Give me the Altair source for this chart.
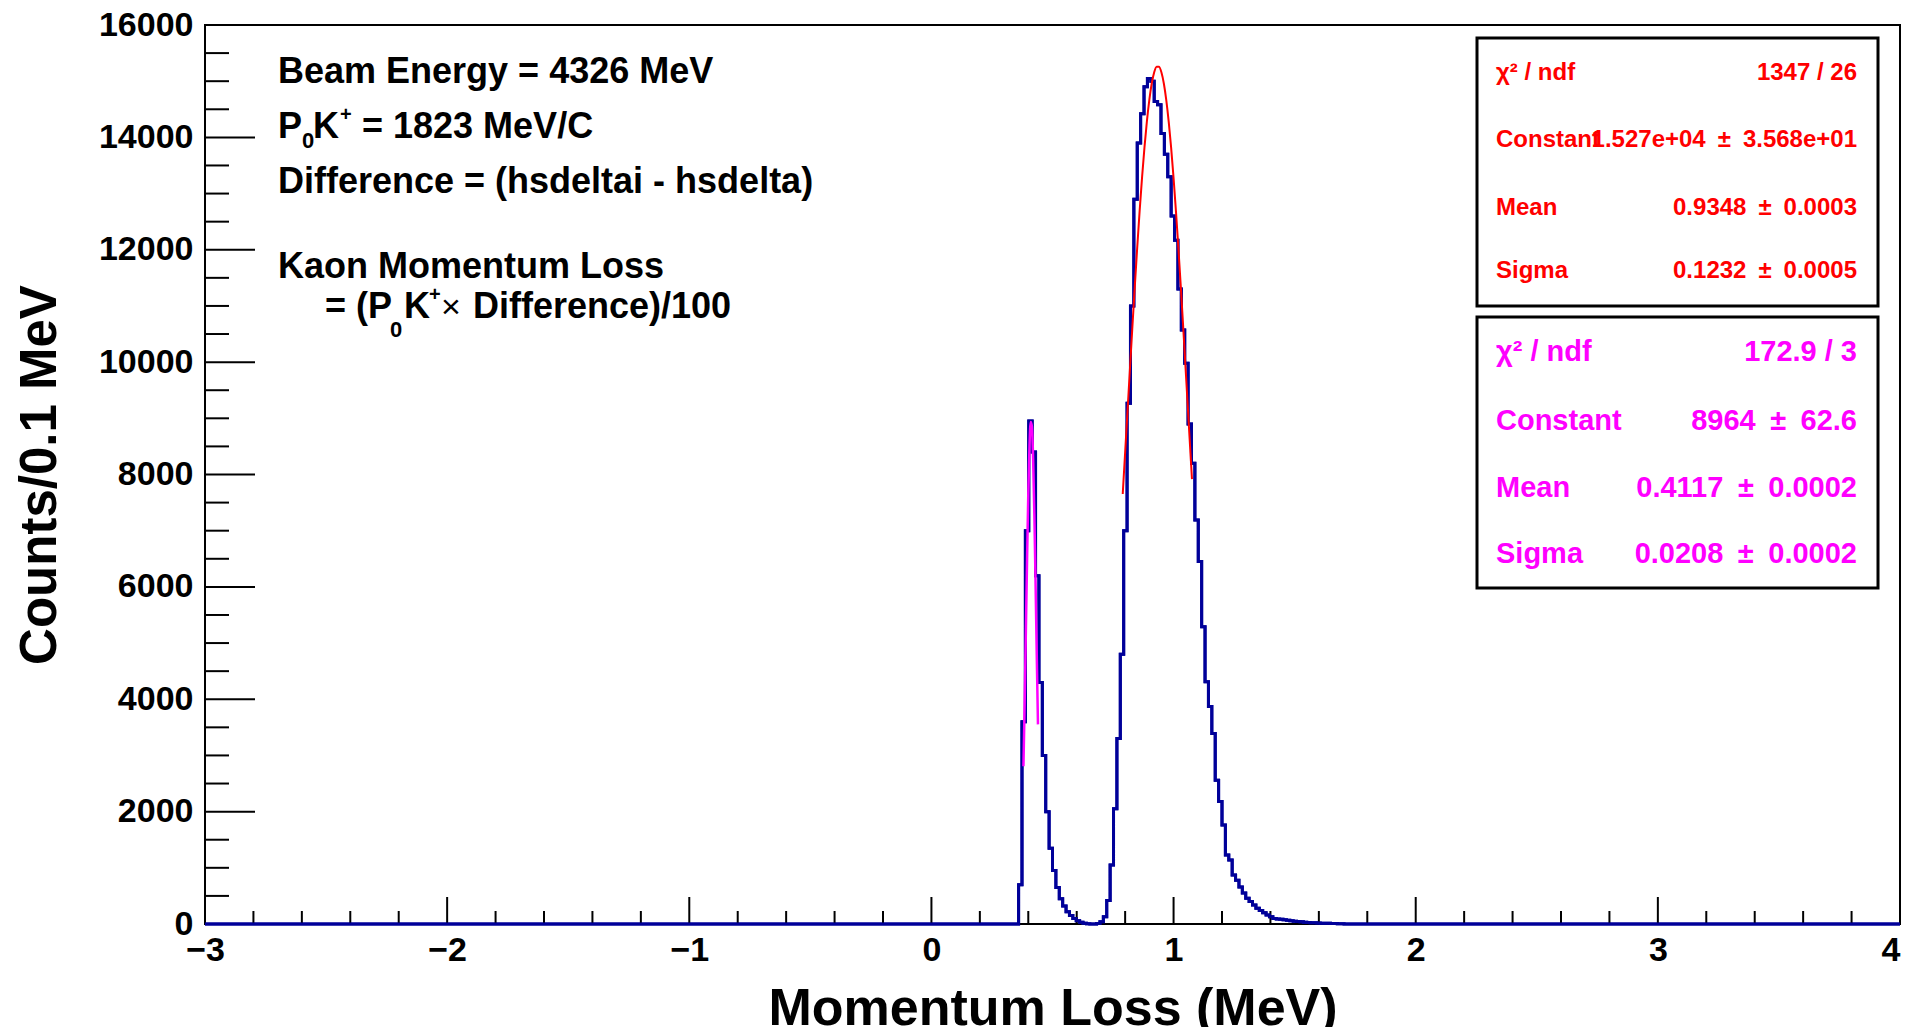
import altair as alt
import pandas as pd

# ---------------- data ----------------
X_MIN, X_MAX = -3.0, 4.0
BIN_WIDTH = 0.014

PEAK1_START = 0.360
PEAK1_COUNTS = [700, 3600, 7000, 8950, 8400, 6200, 4300, 3000, 2000, 1350,
                950, 650, 450, 320, 220, 150, 100, 60, 30, 15, 5]

PEAK2_START = 0.682
PEAK2_COUNTS = [10, 40, 130, 420, 1050, 2050, 3300, 4800, 7000, 9268,
                11000, 12900, 13900, 14420, 14900, 15050, 15000, 14640, 14580, 14070,
                13700, 13300, 12600, 12170, 11300, 10570, 9980, 8900, 8200, 7190,
                6450, 5290, 4310, 3870, 3390, 2560, 2180, 1760, 1230, 1140,
                870, 780, 660, 550, 460, 400, 340, 280, 240, 200,
                160, 130, 100, 90, 83, 75, 65, 59, 50, 44,
                40, 33, 28, 24, 22, 18, 15, 13, 12, 10,
                8, 6, 4]

FIT_RED_X = [0.79, 0.80, 0.81, 0.82, 0.83, 0.84, 0.85, 0.86, 0.87, 0.88,
             0.89, 0.90, 0.91, 0.92, 0.93, 0.94, 0.95, 0.96, 0.97, 0.98,
             0.99, 1.00, 1.01, 1.02, 1.03, 1.04, 1.05, 1.06, 1.07, 1.076]
FIT_RED_Y = [7653, 8393, 9141, 9893, 10636, 11358, 12050, 12700, 13297, 13832,
             14293, 14673, 14963, 15160, 15258, 15256, 15154, 14954, 14659, 14276,
             13812, 13276, 12674, 12022, 11330, 10605, 9863, 9112, 8362, 7918]

FIT_MAG_X = [0.380, 0.385, 0.390, 0.395, 0.400, 0.405, 0.410, 0.415, 0.420,
             0.425, 0.430, 0.435, 0.440]
FIT_MAG_Y = [2806, 3933, 5202, 6494, 7653, 8511, 8934, 8852, 8278, 7307,
             6088, 4787, 3553]

X_TICKS = [-3, -2, -1, 0, 1, 2, 3, 4]
Y_TICKS = [0, 2000, 4000, 6000, 8000, 10000, 12000, 14000, 16000]
X_MINOR_STEP = 0.2
Y_MINOR_STEP = 500

PM = "\u2002±\u2002"
STATS_RED = [("χ² / ndf", "1347 / 26"),
             ("Constant", "1.527e+04" + PM + "3.568e+01"),
             ("Mean", "0.9348" + PM + "0.0003"),
             ("Sigma", "0.1232" + PM + "0.0005")]
STATS_MAG = [("χ² / ndf", "172.9 / 3"),
             ("Constant", "8964" + PM + "62.6"),
             ("Mean", "0.4117" + PM + "0.0002"),
             ("Sigma", "0.0208" + PM + "0.0002")]

# ---------------- layout / style ----------------
W, H = 1695, 899
FONT = "Liberation Sans, Arial, Helvetica, sans-serif"
BLUE = "#000099"
RED = "#ff0000"
MAG = "#ff00ff"

# ---------------- build tables ----------------
n_bins = int(round((X_MAX - X_MIN) / BIN_WIDTH))
counts = [0] * n_bins
i1 = int(round((PEAK1_START - X_MIN) / BIN_WIDTH))
for j, c in enumerate(PEAK1_COUNTS):
    counts[i1 + j] = c
i2 = int(round((PEAK2_START - X_MIN) / BIN_WIDTH))
for j, c in enumerate(PEAK2_COUNTS):
    counts[i2 + j] = c
edges = [X_MIN + k * BIN_WIDTH for k in range(n_bins + 1)]
hist = pd.DataFrame({"x": edges, "y": counts + [0]})

fit_red = pd.DataFrame({"x": FIT_RED_X, "y": FIT_RED_Y})
fit_mag = pd.DataFrame({"x": FIT_MAG_X, "y": FIT_MAG_Y})

n_xm = int(round((X_MAX - X_MIN) / X_MINOR_STEP))
x_minor = [round(X_MIN + k * X_MINOR_STEP, 4) for k in range(n_xm + 1)]
x_minor = [v for v in x_minor if abs(v - round(v)) > 1e-6]
y_minor = [v for v in range(0, 16001, Y_MINOR_STEP) if v % 2000 != 0]

XS = alt.Scale(domain=[X_MIN, X_MAX], nice=False, zero=False)
YS = alt.Scale(domain=[0, 16000], nice=False, zero=False)

x_axis = alt.Axis(values=X_TICKS, format="d", labelFont=FONT, labelFontSize=34,
                  labelFontWeight="bold", labelColor="black", labelFlush=False,
                  labelAlign={"condition": {"test": "datum.value >= 4", "value": "right"},
                              "value": "center"},
                  labelOverlap=False, labelPadding=36, labelBaseline="alphabetic",
                  ticks=False, tickSize=0, domain=False, grid=False,
                  title="Momentum Loss (MeV)", titleFont=FONT, titleFontSize=52,
                  titleFontWeight="bold", titleColor="black", titleX=847.5, titleY=100,
                  titleAlign="center", titleBaseline="alphabetic")
y_axis = alt.Axis(values=Y_TICKS, format="d", labelFont=FONT, labelFontSize=34,
                  labelFontWeight="bold", labelColor="black", labelFlush=False,
                  labelOverlap=False, labelPadding=12, labelBaseline="middle",
                  ticks=False, tickSize=0, domain=False, grid=False,
                  title="Counts/0.1 MeV", titleFont=FONT, titleFontSize=51,
                  titleFontWeight="bold", titleColor="black", titleAngle=270,
                  titleX=-150, titleY=H / 2, titleAlign="center",
                  titleBaseline="alphabetic")

layers = []

# histogram first (carries the axes)
layers.append(alt.Chart(hist).mark_line(interpolate="step-after", color=BLUE, strokeWidth=3)
              .encode(x=alt.X("x:Q", scale=XS, axis=x_axis),
                      y=alt.Y("y:Q", scale=YS, axis=y_axis)))

# tick marks (inward, ROOT style)
layers.append(alt.Chart(pd.DataFrame({"v": y_minor})).mark_rule(color="black", strokeWidth=2)
              .encode(y=alt.Y("v:Q", scale=YS, axis=y_axis), x=alt.value(0), x2=alt.value(24)))
layers.append(alt.Chart(pd.DataFrame({"v": Y_TICKS})).mark_rule(color="black", strokeWidth=2)
              .encode(y=alt.Y("v:Q", scale=YS, axis=y_axis), x=alt.value(0), x2=alt.value(50)))
layers.append(alt.Chart(pd.DataFrame({"v": x_minor})).mark_rule(color="black", strokeWidth=2)
              .encode(x=alt.X("v:Q", scale=XS, axis=x_axis), y=alt.value(H), y2=alt.value(H - 13)))
layers.append(alt.Chart(pd.DataFrame({"v": X_TICKS})).mark_rule(color="black", strokeWidth=2)
              .encode(x=alt.X("v:Q", scale=XS, axis=x_axis), y=alt.value(H), y2=alt.value(H - 27)))

# histogram redrawn on top of the tick feet
layers.append(alt.Chart(hist).mark_line(interpolate="step-after", color=BLUE, strokeWidth=3)
              .encode(x=alt.X("x:Q", scale=XS, axis=x_axis),
                      y=alt.Y("y:Q", scale=YS, axis=y_axis)))

# fits
layers.append(alt.Chart(fit_red).mark_line(interpolate="monotone", color=RED, strokeWidth=2)
              .encode(x=alt.X("x:Q", scale=XS, axis=x_axis), y=alt.Y("y:Q", scale=YS, axis=y_axis)))
layers.append(alt.Chart(fit_mag).mark_line(interpolate="monotone", color=MAG, strokeWidth=2.5)
              .encode(x=alt.X("x:Q", scale=XS, axis=x_axis), y=alt.Y("y:Q", scale=YS, axis=y_axis)))


def box(x1, x2, y1, y2):
    return (alt.Chart(pd.DataFrame({"a": [0]}))
            .mark_rect(fill="white", stroke="black", strokeWidth=3)
            .encode(x=alt.value(x1), x2=alt.value(x2), y=alt.value(y1), y2=alt.value(y2)))


def txt(s, x, y, size, color="black", align="left", weight="bold"):
    return (alt.Chart(pd.DataFrame({"t": [s]}))
            .mark_text(align=align, baseline="alphabetic", font=FONT, fontSize=size,
                       fontWeight=weight, color=color)
            .encode(text="t:N", x=alt.value(x), y=alt.value(y)))


# stats boxes
layers.append(box(1272, 1673, 13, 281))
layers.append(box(1272, 1673, 292, 563))
for (lab, val), yy in zip(STATS_RED, [55, 122, 190, 253]):
    layers.append(txt(lab, 1291, yy, 24, RED, "left"))
    layers.append(txt(val, 1652, yy, 24, RED, "right"))
for (lab, val), yy in zip(STATS_MAG, [336, 405, 472, 538]):
    layers.append(txt(lab, 1291, yy, 29, MAG, "left"))
    layers.append(txt(val, 1652, yy, 29, MAG, "right"))

# annotation text (upper left)
layers += [
    txt("Beam Energy = 4326 MeV", 73, 58, 36),
    txt("P", 73, 113, 36),
    txt("0", 97, 123, 22),
    txt("K", 108, 113, 36),
    txt("+", 135, 96, 20),
    txt("= 1823 MeV/C", 157, 113, 36),
    txt("Difference = (hsdeltai - hsdelta)", 73, 168, 36),
    txt("Kaon Momentum Loss", 73, 253, 36),
    txt("= (P", 120, 293, 36),
    txt("0", 185, 312, 22),
    txt("K", 199, 293, 36),
    txt("+", 224, 276, 20),
    txt("×", 236, 293, 34, weight="normal"),
    txt("Difference)/100", 268, 293, 36),
]

chart = (alt.layer(*layers)
         .properties(width=W, height=H,
                     padding={"left": 197, "top": 17, "right": 2, "bottom": 103},
                     autosize=alt.AutoSizeParams(type="none"),
                     background="white")
         .configure_view(stroke="black", strokeWidth=2))

chart.save("out.html", embed_options={"renderer": "svg", "actions": False})
